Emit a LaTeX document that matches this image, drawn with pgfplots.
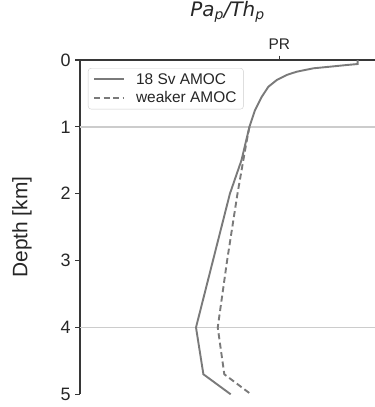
\documentclass[border=0pt]{standalone}
\usepackage{pgfplots}
\pgfplotsset{compat=1.18}
\usepackage{fontspec}
\setmainfont{Liberation Sans}
\newfontfamily\djv{DejaVu Sans}
\definecolor{linegray}{RGB}{122,122,122}
\definecolor{spine}{RGB}{55,55,55}
\definecolor{gridgray}{RGB}{204,204,204}
\begin{document}
\begin{tikzpicture}
\useasboundingbox (-80bp,-12.7bp) rectangle (295bp,394.3bp);
\begin{axis}[
  at={(0,0)}, anchor=south west,
  scale only axis, width=295bp, height=334.3bp,
  xmin=0, xmax=1.48, ymin=0, ymax=5, y dir=reverse,
  enlargelimits=false,
  axis x line*=top, axis y line*=left,
  axis line style={-, draw=spine, line width=1.2bp},
  tick align=outside, major tick length=4.5bp,
  tick style={draw=spine, line width=1.2bp},
  xtick={1}, xticklabels={PR},
  xticklabel style={font=\fontsize{15.5}{18}\selectfont, text=black!85, yshift=2bp},
  ytick={0,1,2,3,4,5}, yticklabels={0,1,2,3,4,5},
  yticklabel style={font=\fontsize{18}{21}\selectfont, text=black!85, xshift=-1.5bp},
  extra y ticks={1,4}, extra y tick labels={},
  extra y tick style={grid=major, major grid style={draw=gridgray, line width=1.5bp}, major tick length=0pt},
  ylabel={Depth [km]},
  ylabel style={at={(axis description cs:-0.197,0.5)}, anchor=center, font=\fontsize{21}{24}\selectfont, text=black!85},
  title={\djv\itshape Pa\textsubscript{p}/Th\textsubscript{p}},
  title style={at={(axis description cs:0.5,1.112)}, anchor=base, font=\fontsize{20}{23}\selectfont, text=black!85},
  legend style={at={(axis description cs:0.027,0.976)}, anchor=north west, draw=gridgray, rounded corners=3bp,
    font=\fontsize{15.5}{18}\selectfont, text=black!85, row sep=2bp, inner xsep=5bp, inner ysep=3bp},
  legend cell align=left,
  legend image code/.code={\draw[#1, line width=1.9bp] (0bp,0bp) -- (30bp,0bp); \path (0bp,0bp) (39bp,0bp);},
]
\addplot[linegray, line width=1.9bp] coordinates {
(1.393,0) (1.393,0.06) (1.338,0.075) (1.254,0.10) (1.171,0.124) (1.087,0.175)
(1.037,0.224) (0.987,0.30) (0.945,0.40) (0.912,0.55) (0.878,0.75) (0.850,1.0)
(0.810,1.5) (0.752,2.0) (0.667,3.0) (0.582,4.0) (0.619,4.7) (0.756,5.0)
};
\addlegendentry{18 Sv AMOC}
\addplot[linegray, line width=1.9bp, dash pattern=on 6bp off 3.5bp] coordinates {
(0.850,1.0) (0.834,1.25) (0.790,2.0) (0.738,3.0) (0.691,4.0) (0.724,4.7) (0.858,5.0)
};
\addlegendentry{weaker AMOC}
\end{axis}
\end{tikzpicture}
\end{document}
